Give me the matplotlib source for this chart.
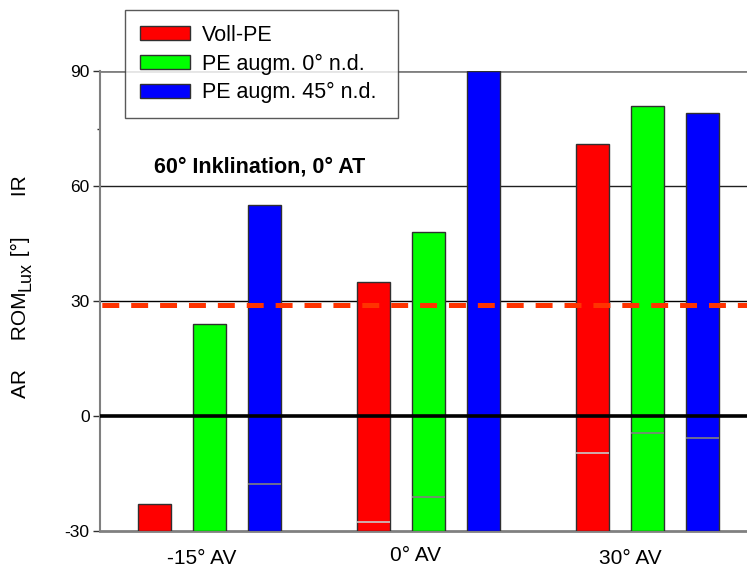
import matplotlib
matplotlib.use("Agg")
import matplotlib.pyplot as plt
from matplotlib.patches import Patch
import numpy as np

plt.rcParams['font.family'] = ['Liberation Sans', 'DejaVu Sans']
plt.rcParams['axes.unicode_minus'] = False
plt.rcParams['lines.scale_dashes'] = False

# --- data -------------------------------------------------------------
groups = ['-15° AV', '0° AV', '30° AV']
series = ['Voll-PE', 'PE augm. 0° n.d.', 'PE augm. 45° n.d.']
colors = ['#FF0000', '#00FF00', '#0000FF']

# upper limit (IR) per series, one value per group
ir_voll = [-23, 35, 71]
ir_aug0 = [24, 48, 81]
ir_aug45 = [55, 90, 79]

# lower limit (AR) per series; NaN where it lies below the axis
ar_voll = [np.nan, -27.7, -9.7]
ar_aug0 = [np.nan, -21.0, -4.4]
ar_aug45 = [-17.7, np.nan, -5.7]

luxation_level = 29
yticks = [-30, 0, 30, 60, 90]
label_pos = [-0.035, 0.94, 1.92]
label_y = [-37.1, -36.3, -37.1]

W, H = 747, 570

# --- figure -----------------------------------------------------------
fig = plt.figure(figsize=(W / 100, H / 100), dpi=100)
ax = fig.add_axes([100 / W, 39 / H, 3 * 219 / W, 460 / H])

ymin = -30
ax.set_xlim(-0.5, 2.5)
ax.set_ylim(ymin, 90)

x = np.arange(len(groups))
offset = 0.251
width = 0.1507
tops = [ir_voll, ir_aug0, ir_aug45]
lows = [ar_voll, ar_aug0, ar_aug45]
line_cols = ['#C8C8C8', '#808080', '#808080']

for i, (top, low, col) in enumerate(zip(tops, lows, colors)):
    xs = x + (i - 1) * offset
    heights = np.array(top) - ymin
    ax.bar(xs, heights, width=width, bottom=ymin, color=col,
           edgecolor='#303030', linewidth=1.0, zorder=3)
    for xc, lv in zip(xs, low):
        if not np.isnan(lv):
            ax.hlines(lv, xc - width / 2, xc + width / 2, colors=line_cols[i],
                      linewidth=1.2, zorder=3.5)

# horizontal reference lines
ax.axhline(90, color='#808080', linewidth=2.0, zorder=1)
ax.axhline(60, color='#202020', linewidth=1.0, zorder=1)
ax.axhline(30, color='#000000', linewidth=1.0, zorder=1)
ax.axhline(0, color='#000000', linewidth=2.6, zorder=4)

dash = ax.axhline(luxation_level, color='#FF3300', linewidth=3.6, zorder=5)
dash.set_linestyle((19.5, (12.2, 8.6)))

# spines
for s in ['top', 'right']:
    ax.spines[s].set_visible(False)
ax.spines['left'].set_color('#808080')
ax.spines['left'].set_linewidth(1.5)
ax.spines['bottom'].set_color('#808080')
ax.spines['bottom'].set_linewidth(2.0)

# ticks
ax.set_yticks(yticks)
ax.set_yticks([75], minor=True)
ax.tick_params(axis='y', which='major', direction='out', length=5,
               width=1.0, color='#303030', labelsize=12.5, pad=2.5)
ax.tick_params(axis='y', which='minor', direction='out', length=2.5,
               width=1.0, color='#303030')
ax.set_xticks([])

for gx, gy, lab in zip(label_pos, label_y, groups):
    ax.text(gx, gy, lab, ha='center', va='center', fontsize=15,
            clip_on=False)

ax.text(0.229, 63.4, '60° Inklination, 0° AT', ha='center', va='baseline',
        fontsize=15.5, fontweight='bold', zorder=6)

# vertical axis title, assembled piece by piece so the subscript can be sized
renderer = fig.canvas.get_renderer()
pieces = [('AR     ROM', 15, 0), ('Lux', 13, 4), (' [°]       IR', 15, 0)]
base_x = 26
cur_y = 398.0
for txt, size, shift in pieces:
    t = fig.text((base_x + shift) / W, 1 - cur_y / H, txt, rotation=90,
                 rotation_mode='anchor', ha='left', va='baseline',
                 fontsize=size)
    ext = t.get_window_extent(renderer)
    cur_y -= ext.height

handles = [Patch(facecolor=c, edgecolor='#303030', linewidth=1.0) for c in colors]
leg_box = (125 / W, 1 - 116 / H, 273 / W, 106 / H)
leg = fig.legend(handles, series, loc='upper left', mode='expand',
                 bbox_to_anchor=leg_box, bbox_transform=fig.transFigure,
                 fontsize=15.5, frameon=True, fancybox=False, shadow=False,
                 borderaxespad=0, borderpad=0.68, labelspacing=0.36,
                 handlelength=2.35, handleheight=0.65, handletextpad=0.55)
leg.get_frame().set_edgecolor('#303030')
leg.get_frame().set_linewidth(1.0)
leg.set_zorder(10)

fig.savefig('out.png', dpi=100)
